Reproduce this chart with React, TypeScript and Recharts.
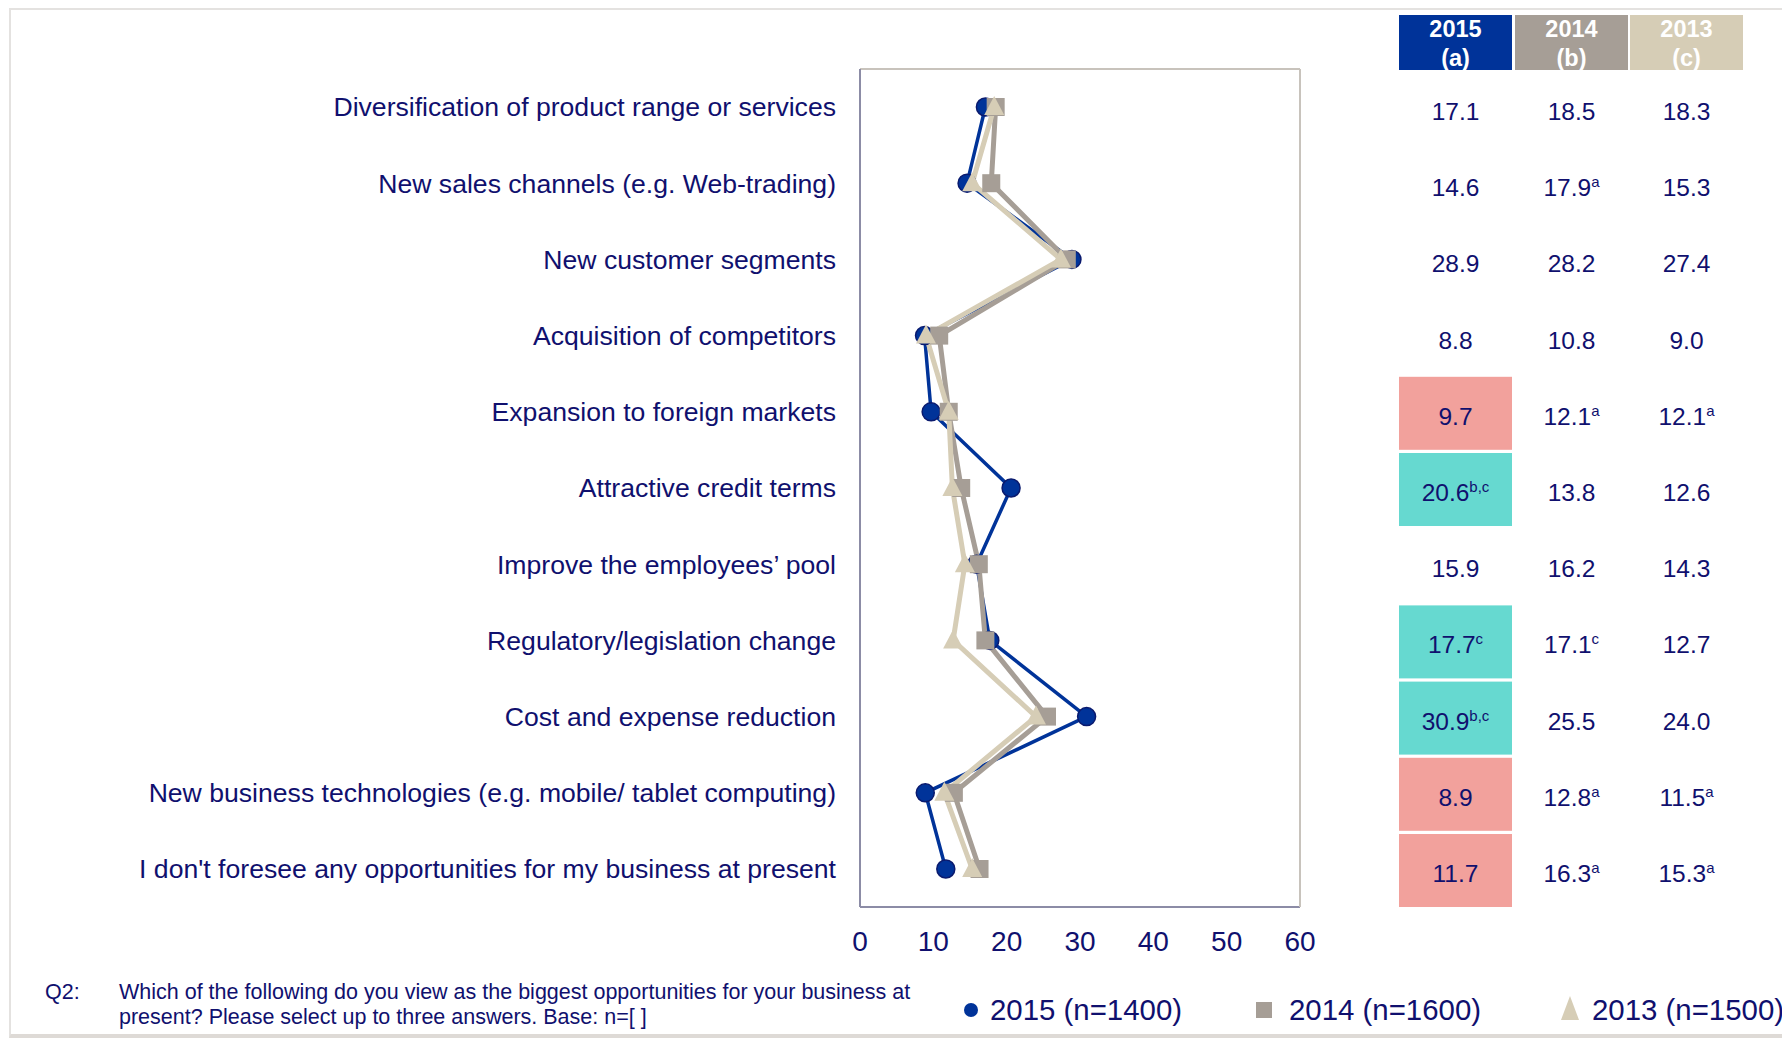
import { LineChart, Line, XAxis, YAxis } from "recharts";

const categories = [
  "Diversification of product range or services",
  "New sales channels (e.g. Web-trading)",
  "New customer segments",
  "Acquisition of competitors",
  "Expansion to foreign markets",
  "Attractive credit terms",
  "Improve the employees\u2019 pool",
  "Regulatory/legislation change",
  "Cost and expense reduction",
  "New business technologies (e.g. mobile/ tablet computing)",
  "I don't foresee any opportunities for my business at present",
];
const y2015 = [17.1, 14.6, 28.9, 8.8, 9.7, 20.6, 15.9, 17.7, 30.9, 8.9, 11.7];
const y2014 = [18.5, 17.9, 28.2, 10.8, 12.1, 13.8, 16.2, 17.1, 25.5, 12.8, 16.3];
const y2013 = [18.3, 15.3, 27.4, 9.0, 12.1, 12.6, 14.3, 12.7, 24.0, 11.5, 15.3];
// significance letters shown as superscripts in the table
const sup2015 = ["", "", "", "", "", "b,c", "", "c", "b,c", "", ""];
const sup2014 = ["", "a", "", "", "a", "", "", "c", "", "a", "a"];
const sup2013 = ["", "", "", "", "a", "", "", "", "", "a", "a"];
// cell shading for the 2015 column: lower / higher than earlier years
const flag2015 = ["", "", "", "", "low", "high", "", "high", "high", "low", "low"];
const xTicks = [0, 10, 20, 30, 40, 50, 60];
const years = ["2015", "2014", "2013"];
const letters = ["(a)", "(b)", "(c)"];
const legendLabels = ["2015 (n=1400)", "2014 (n=1600)", "2013 (n=1500)"];

const data = categories.map((cat, i) => ({
  cat,
  v2015: y2015[i],
  v2014: y2014[i],
  v2013: y2013[i],
}));

const FONT = "'Liberation Sans', Arial, Helvetica, sans-serif";
const NAVY = "#10106E";
const C2015 = "#003399";
const C2014 = "#A69E96";
const C2013 = "#D6CDB6";
const BOX_DARK = "#8C8CA6";
const BOX_LIGHT = "#C8C3BC";
const ROW_PAD = { top: 38, bottom: 38 };

const colCenters = [155.5, 271.5, 386.5];

function TableTick(props: any) {
  const { x, y, payload } = props;
  const i = categories.indexOf(payload.value);
  if (i < 0) return null;
  const cols: [number[], string[]][] = [
    [y2015, sup2015],
    [y2014, sup2014],
    [y2013, sup2013],
  ];
  const flag = flag2015[i];
  return (
    <g>
      {flag && (
        <rect
          x={x + 99}
          y={y - 35}
          width={113}
          height={73}
          fill={flag === "low" ? "#F2A19C" : "#66D9D0"}
        />
      )}
      {cols.map(([vals, sups], c) => (
        <text
          key={c}
          x={x + colCenters[c]}
          y={y + 13}
          textAnchor="middle"
          fontSize={24.5}
          fontFamily={FONT}
          fill={NAVY}
        >
          {vals[i].toFixed(1)}
          {sups[i] && (
            <tspan dy={-9} fontSize={15}>
              {sups[i]}
            </tspan>
          )}
        </text>
      ))}
    </g>
  );
}

const circleDot = (p: any) =>
  p.cx == null ? null : (
    <circle key={`c${p.index}`} cx={p.cx} cy={p.cy} r={9} fill={C2015} stroke="#0A1A6E" strokeWidth={1.5} />
  );
const squareDot = (p: any) =>
  p.cx == null ? null : (
    <rect key={`s${p.index}`} x={p.cx - 9} y={p.cy - 9} width={18} height={18} fill={C2014} />
  );
const triangleDot = (p: any) =>
  p.cx == null ? null : (
    <polygon
      key={`t${p.index}`}
      points={`${p.cx},${p.cy - 11} ${p.cx + 10},${p.cy + 8} ${p.cx - 10},${p.cy + 8}`}
      fill={C2013}
    />
  );

function Header() {
  const fills = [C2015, C2014, C2013];
  const lefts = [1399, 1515, 1630];
  return (
    <>
      {years.map((yr, i) => (
        <div
          key={yr}
          style={{
            position: "absolute",
            left: lefts[i],
            top: 15,
            width: 113,
            height: 55,
            overflow: "hidden",
            background: fills[i],
            color: "#fff",
            fontWeight: "bold",
            fontSize: 23.5,
            lineHeight: "29px",
            textAlign: "center",
          }}
        >
          {yr}
          <br />
          {letters[i]}
        </div>
      ))}
    </>
  );
}

function LegendRow() {
  const marks = [
    <svg width={16} height={16} key="c"><circle cx={8} cy={8} r={7} fill={C2015} /></svg>,
    <svg width={16} height={16} key="s"><rect x={0} y={0} width={16} height={16} fill={C2014} /></svg>,
    <svg width={18} height={24} key="t"><polygon points="9,0 18,24 0,24" fill={C2013} /></svg>,
  ];
  const markLeft = [963, 1256, 1561];
  const textLeft = [990, 1289, 1592];
  return (
    <>
      {legendLabels.map((lab, i) => (
        <div key={lab}>
          <div style={{ position: "absolute", left: markLeft[i], top: i === 2 ? 996 : 1002, lineHeight: 0 }}>
            {marks[i]}
          </div>
          <div
            style={{
              position: "absolute",
              left: textLeft[i],
              top: 992,
              fontSize: 29.4,
              lineHeight: "36px",
              color: NAVY,
              whiteSpace: "nowrap",
            }}
          >
            {lab}
          </div>
        </div>
      ))}
    </>
  );
}

export default function App() {
  return (
    <div
      style={{
        position: "absolute",
        left: 0,
        top: 0,
        width: 1782,
        height: 1046,
        overflow: "hidden",
        background: "#fff",
        fontFamily: FONT,
      }}
    >
      <div
        style={{
          position: "absolute",
          left: 9,
          top: 8,
          width: 1800,
          height: 1030,
          borderTop: "2px solid #E4E2E0",
          borderLeft: "2px solid #E4E2E0",
          borderBottom: "4px solid #DEDAD6",
          boxSizing: "border-box",
        }}
      />
      <div style={{ position: "absolute", left: 0, top: 0 }}>
        <LineChart
          width={1750}
          height={970}
          data={data}
          layout="vertical"
          margin={{ top: 68, right: 0, left: 0, bottom: 0 }}
        >
          <XAxis
            type="number"
            domain={[0, 60]}
            ticks={xTicks}
            interval={0}
            height={63}
            tickSize={0}
            tickMargin={24}
            tickLine={false}
            axisLine={{ stroke: BOX_DARK, strokeWidth: 2 }}
            tick={{ fontSize: 28, fill: NAVY, fontFamily: FONT }}
          />
          <XAxis
            xAxisId="top"
            orientation="top"
            type="number"
            domain={[0, 60]}
            ticks={xTicks}
            allowDataOverflow
            height={1}
            tick={false}
            tickLine={false}
            axisLine={{ stroke: BOX_LIGHT, strokeWidth: 2 }}
          />
          <YAxis
            type="category"
            dataKey="cat"
            width={860}
            interval={0}
            padding={ROW_PAD}
            tickSize={0}
            tickMargin={24}
            tickLine={false}
            axisLine={{ stroke: BOX_DARK, strokeWidth: 2 }}
            tick={{ fontSize: 26.6, fill: NAVY, fontFamily: FONT }}
          />
          <YAxis
            yAxisId="table"
            orientation="right"
            type="category"
            dataKey="cat"
            width={450}
            interval={0}
            padding={ROW_PAD}
            tickSize={0}
            tickMargin={0}
            tickLine={false}
            axisLine={{ stroke: BOX_LIGHT, strokeWidth: 2 }}
            tick={TableTick}
          />
          <Line
            dataKey="v2015"
            type="linear"
            stroke={C2015}
            strokeWidth={3.5}
            dot={circleDot}
            activeDot={false}
            isAnimationActive={false}
          />
          <Line
            dataKey="v2014"
            type="linear"
            stroke={C2014}
            strokeWidth={5}
            dot={squareDot}
            activeDot={false}
            isAnimationActive={false}
          />
          <Line
            dataKey="v2013"
            xAxisId="top"
            type="linear"
            stroke={C2013}
            strokeWidth={5}
            dot={triangleDot}
            activeDot={false}
            isAnimationActive={false}
          />
        </LineChart>
      </div>
      <Header />
      <div style={{ position: "absolute", left: 45, top: 980, fontSize: 21.5, lineHeight: "25px", color: NAVY }}>Q2:</div>
      <div
        style={{
          position: "absolute",
          left: 119,
          top: 980,
          width: 900,
          fontSize: 21.5,
          lineHeight: "25px",
          color: NAVY,
        }}
      >
        Which of the following do you view as the biggest opportunities for your business at
        <br />
        present? Please select up to three answers. Base: n=[ ]
      </div>
      <LegendRow />
    </div>
  );
}
